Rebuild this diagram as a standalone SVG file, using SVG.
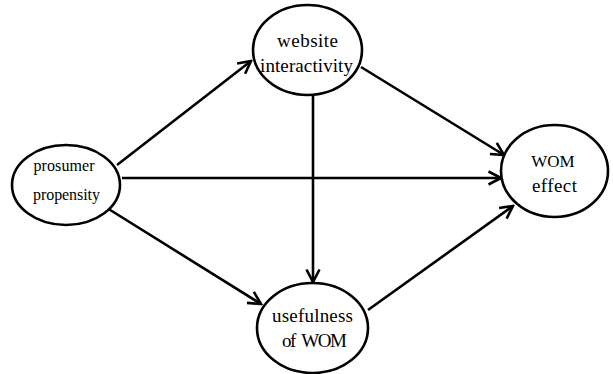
<svg xmlns="http://www.w3.org/2000/svg" width="613" height="374" viewBox="0 0 613 374">
  <style>
    .node ellipse { fill: #ffffff; stroke: #000000; stroke-width: 2.6; }
    .node text { font-family: "Liberation Serif", "Times New Roman", serif; fill: #000000; text-anchor: middle; font-size: 19px; white-space: pre; }
    .node.small text { font-size: 16px; }
    .edges line { stroke: #000000; stroke-width: 2.6; marker-end: url(#arrow); }
  </style>
  <defs>
    <marker id="arrow" viewBox="0 0 16 16" refX="14" refY="8" markerWidth="16" markerHeight="16" markerUnits="userSpaceOnUse" orient="auto">
      <path d="M1.5,1.5 L14,8 L1.5,14.5" fill="none" stroke="#000000" stroke-width="2.6" stroke-linejoin="miter"/>
    </marker>
  </defs>
  <rect width="613" height="374" fill="#ffffff"/>

  <!-- connectors -->
  <g id="edges" class="edges">
    <line x1="117" y1="165" x2="251" y2="61"/>
    <line x1="122" y1="178" x2="501" y2="178"/>
    <line x1="107" y1="208" x2="261" y2="304"/>
    <line x1="313" y1="95" x2="313" y2="282"/>
    <line x1="361" y1="67" x2="504" y2="155"/>
    <line x1="368" y1="310" x2="513" y2="206"/>
  </g>

  <!-- nodes -->
  <g id="prosumer-propensity" class="node small">
    <ellipse cx="66" cy="185" rx="54" ry="40"/>
    <text x="64" y="171" textLength="61" lengthAdjust="spacing">prosumer</text>
    <text x="66.5" y="200" textLength="67" lengthAdjust="spacing">propensity</text>
  </g>
  <g id="website-interactivity" class="node">
    <ellipse cx="307.5" cy="50" rx="54.5" ry="45"/>
    <text x="307.5" y="47" textLength="61" lengthAdjust="spacing">website</text>
    <text x="306.5" y="72" textLength="93" lengthAdjust="spacing">interactivity</text>
  </g>
  <g id="usefulness-of-wom" class="node">
    <ellipse cx="312.5" cy="328" rx="55.5" ry="45"/>
    <text x="312.5" y="322" textLength="81" lengthAdjust="spacing">usefulness</text>
    <text x="314.5" y="347" textLength="65" lengthAdjust="spacing">of  WOM</text>
  </g>
  <g id="wom-effect" class="node">
    <ellipse cx="554.5" cy="171" rx="53.5" ry="46"/>
    <text x="553" y="167" style="font-size:17px">WOM</text>
    <text x="554.5" y="192" textLength="45" lengthAdjust="spacing">effect</text>
  </g>
</svg>
